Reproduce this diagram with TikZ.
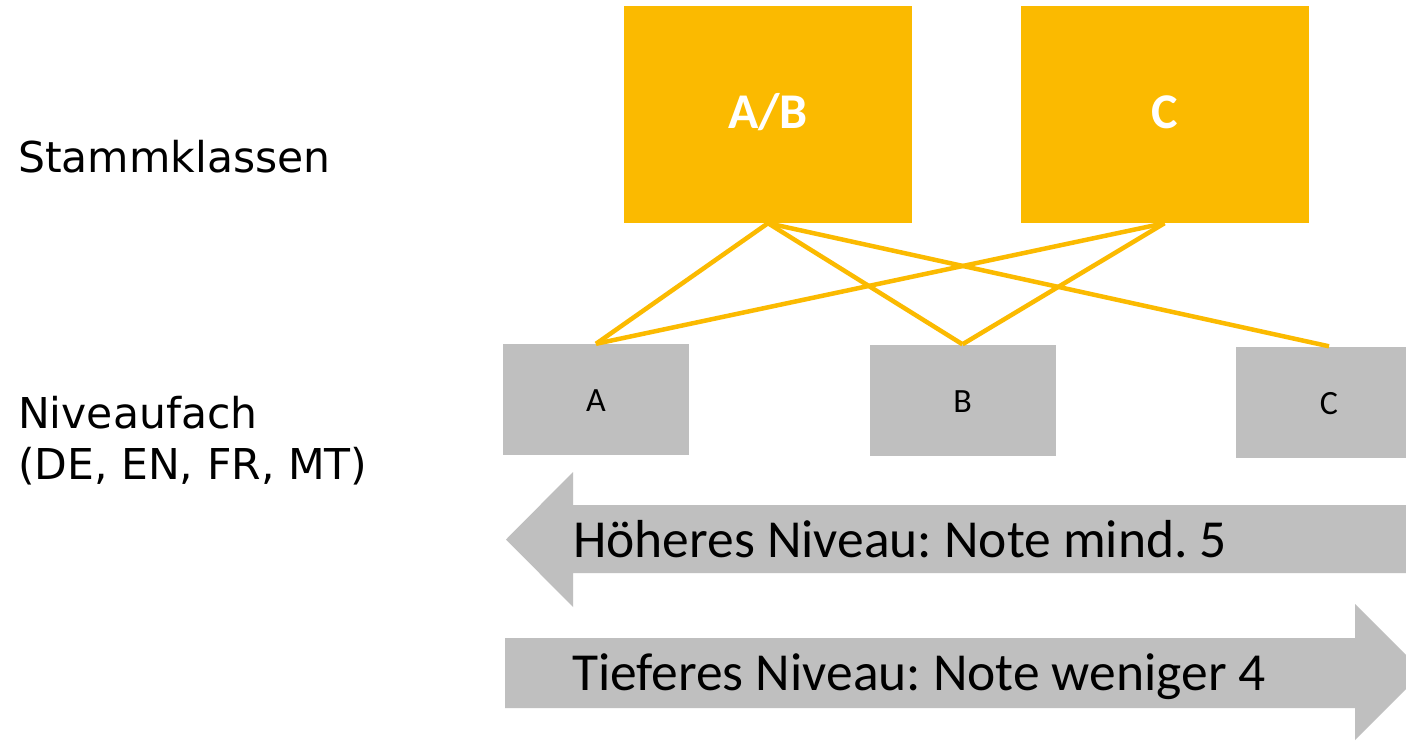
\documentclass[tikz,border=0pt]{standalone}
\usepackage{fontspec}
\setmainfont{Carlito}
\newfontfamily\labelfont{DejaVu Sans}
\definecolor{amber}{HTML}{FBBA00}
\definecolor{lgray}{HTML}{BFBFBF}
\frenchspacing
\begin{document}
\begin{tikzpicture}[x=1pt,y=-1pt,
  yellowbox/.style={fill=amber, draw=none, minimum width=288pt, minimum height=217pt, inner sep=0pt,
    text=white, text height=28pt, text depth=0pt, font=\fontsize{50}{54}\selectfont\bfseries},
  graybox/.style={fill=lgray, draw=none, minimum width=186pt, minimum height=111pt, inner sep=0pt,
    text height=24pt, text depth=0pt, font=\fontsize{34}{38}\selectfont},
  link/.style={draw=amber, line width=4.5pt},
  arrowshape/.style={fill=lgray, draw=none},
  arrowtext/.style={anchor=base west, inner sep=0pt, font=\fontsize{53.5}{58}\selectfont},
  sidelabel/.style={anchor=base west, inner sep=0pt, font=\labelfont\fontsize{42.5}{51}\selectfont}]
\useasboundingbox (0,0) rectangle (1406,741);
\clip (0,0) rectangle (1406,741);
\fill[white] (0,0) rectangle (1406,741);

% side labels
\node[sidelabel] (stamm) at (18,172) {Stammklassen};
\node[sidelabel] (niv1) at (18,428) {Niveaufach};
\node[sidelabel] (niv2) at (18,479) {(DE, EN, FR, MT)};

% top boxes
\node[yellowbox] (ab) at (768,114.5) {A/B};
\node[yellowbox] (cc) at (1164.5,114.5) {C};

% bottom boxes
\node[graybox] (ga) at (596,399.5) {A};
\node[graybox] (gb) at (962.5,400) {B};
\node[graybox] (gc) at (1329,402) {C};

% connectors
\draw[link] (ab.south) -- (ga.north);
\draw[link] (ab.south) -- (gb.north);
\draw[link] (ab.south) -- (gc.north);
\draw[link] (cc.south) -- (ga.north);
\draw[link] (cc.south) -- (gb.north);

% arrows
\fill[arrowshape] (506,539.5) -- (573,472) -- (573,505) -- (1420,505) -- (1420,573) -- (573,573) -- (573,607) -- cycle;
\fill[arrowshape] (505,638) -- (1355,638) -- (1355,604) -- (1423,672) -- (1355,740) -- (1355,708) -- (505,708) -- cycle;

\node[arrowtext] (hoch) at (573,557) {Höheres Niveau: Note mind. 5};
\node[arrowtext] (tief) at (572,690) {Tieferes Niveau: Note weniger 4};
\end{tikzpicture}
\end{document}
